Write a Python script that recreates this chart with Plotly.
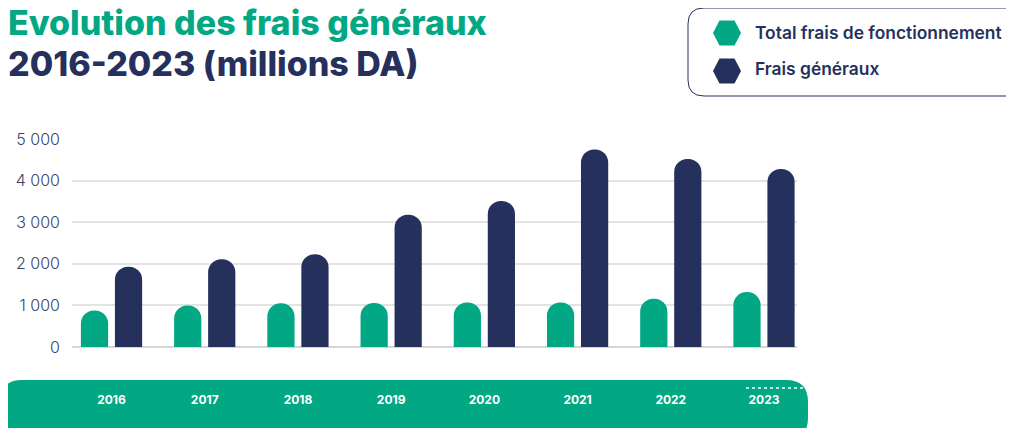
import plotly.graph_objects as go

# ---- data ----
years = ["2016", "2017", "2018", "2019", "2020", "2021", "2022", "2023"]
total_fonctionnement = [880, 1000, 1050, 1060, 1070, 1070, 1160, 1320]
frais_generaux = [1930, 2110, 2230, 3180, 3510, 4750, 4520, 4280]
y_tickvals = [0, 1000, 2000, 3000, 4000, 5000]
y_ticktext = ["0", "1 000", "2 000", "3 000", "4 000", "5 000"]

GREEN = "#02a783"
NAVY = "#25315c"
OFF = 8  # page body margin: the figure is drawn 8px from the window edge
W, H = 1014 - OFF, 428 - OFF
# plot area in window pixels: x 72..797, y 139..347
ML, MT = 72 - OFF, 139 - OFF
MR, MB = W - (797 - OFF), H - (347 - OFF)
PW, PH = W - ML - MR, H - MT - MB


def px_x(x):
    return (x - OFF - ML) / PW


def px_y(y):
    return (H - MB - (y - OFF)) / PH


def path_from(points):
    s = ""
    for p in points:
        if p[0] == "Q":
            s += "Q%.5f,%.5f %.5f,%.5f " % (px_x(p[1]), px_y(p[2]), px_x(p[3]), px_y(p[4]))
        else:
            s += "%s%.5f,%.5f " % (p[0], px_x(p[1]), px_y(p[2]))
    return s + "Z"


def rounded_rect(x0, y0, x1, y1, r):
    pts = [
        ("M", x0 + r, y0), ("L", x1 - r, y0), ("Q", x1, y0, x1, y0 + r),
        ("L", x1, y1 - r), ("Q", x1, y1, x1 - r, y1), ("L", x0 + r, y1),
        ("Q", x0, y1, x0, y1 - r), ("L", x0, y0 + r), ("Q", x0, y0, x0 + r, y0),
    ]
    return path_from(pts)


def hexagon(cx, cy, hw=14, hh=12.5, fw=7.5):
    pts = [("M", cx - hw, cy), ("L", cx - fw, cy - hh), ("L", cx + fw, cy - hh),
           ("L", cx + hw, cy), ("L", cx + fw, cy + hh), ("L", cx - fw, cy + hh)]
    return path_from(pts)


fig = go.Figure()
fig.add_trace(go.Bar(x=years, y=total_fonctionnement, name="Total frais de fonctionnement",
                     marker=dict(color=GREEN, line=dict(width=0)), showlegend=False))
fig.add_trace(go.Bar(x=years, y=frais_generaux, name="Frais généraux",
                     marker=dict(color=NAVY, line=dict(width=0)), showlegend=False))
# legend entries (their symbols are drawn as hexagon shapes)
fig.add_trace(go.Scatter(x=[None], y=[None], mode="markers", name="Total frais de fonctionnement",
                         legendgroup="a", marker=dict(symbol="hexagon2", size=16, color="rgba(0,0,0,0)")))
fig.add_trace(go.Scatter(x=[None], y=[None], mode="markers", name="Frais généraux",
                         legendgroup="b", marker=dict(symbol="hexagon2", size=16, color="rgba(0,0,0,0)")))

shapes = [
    dict(type="path", xref="paper", yref="paper", path=rounded_rect(0, 380, 808, 440, 22),
         fillcolor=GREEN, line=dict(width=0), layer="below"),
    dict(type="line", xref="paper", yref="paper", x0=px_x(746), x1=px_x(806), y0=px_y(388), y1=px_y(388),
         line=dict(color="white", width=1.5, dash="dot")),
    dict(type="path", xref="paper", yref="paper", path=rounded_rect(688, 8, 1030, 96, 16),
         fillcolor="rgba(0,0,0,0)", line=dict(color=NAVY, width=1)),
    dict(type="path", xref="paper", yref="paper", path=hexagon(727, 33),
         fillcolor=GREEN, line=dict(width=0)),
    dict(type="path", xref="paper", yref="paper", path=hexagon(727, 71),
         fillcolor=NAVY, line=dict(width=0)),
]

annotations = [
    dict(text="Evolution des frais généraux", xref="paper", yref="paper",
         x=px_x(6), y=px_y(22), xanchor="left", yanchor="middle", showarrow=False,
         font=dict(family="Inter", size=34, weight=800, color=GREEN)),
    dict(text="2016-2023 (millions DA)", xref="paper", yref="paper",
         x=px_x(6), y=px_y(64), xanchor="left", yanchor="middle", showarrow=False,
         font=dict(family="Inter", size=34, weight=800, color=NAVY)),
]

fig.update_layout(
    width=W, height=H,
    margin=dict(l=ML, r=MR, t=MT, b=MB, autoexpand=False),
    paper_bgcolor="white", plot_bgcolor="white",
    barmode="group", bargap=0.27, bargroupgap=0.2, barcornerradius="50%",
    xaxis=dict(
        type="category", range=[-0.424, 7.354], showgrid=False, zeroline=False, showline=False,
        ticks="", ticklabelstandoff=44,
        tickfont=dict(family="Inter", size=12, weight=700, color="white"),
    ),
    yaxis=dict(
        range=[0, 5000], tickvals=y_tickvals, ticktext=y_ticktext,
        showgrid=True, gridcolor="#e3e3e3", gridwidth=1.5,
        zeroline=True, zerolinecolor="#d6d6d6", zerolinewidth=2,
        ticks="", ticklabelstandoff=11,
        tickfont=dict(family="Inter", size=16, weight=300, color="#3b4468"),
    ),
    legend=dict(
        xref="container", yref="container", x=(705 - OFF) / W, y=1 - 6 / H,
        xanchor="left", yanchor="top", bgcolor="rgba(0,0,0,0)", borderwidth=0,
        traceorder="grouped", tracegroupgap=11, itemwidth=40,
        font=dict(family="Inter", size=17.4, weight=600, color=NAVY),
    ),
    shapes=shapes,
    annotations=annotations,
    font=dict(family="Inter"),
)

fig.write_html("out.html")
